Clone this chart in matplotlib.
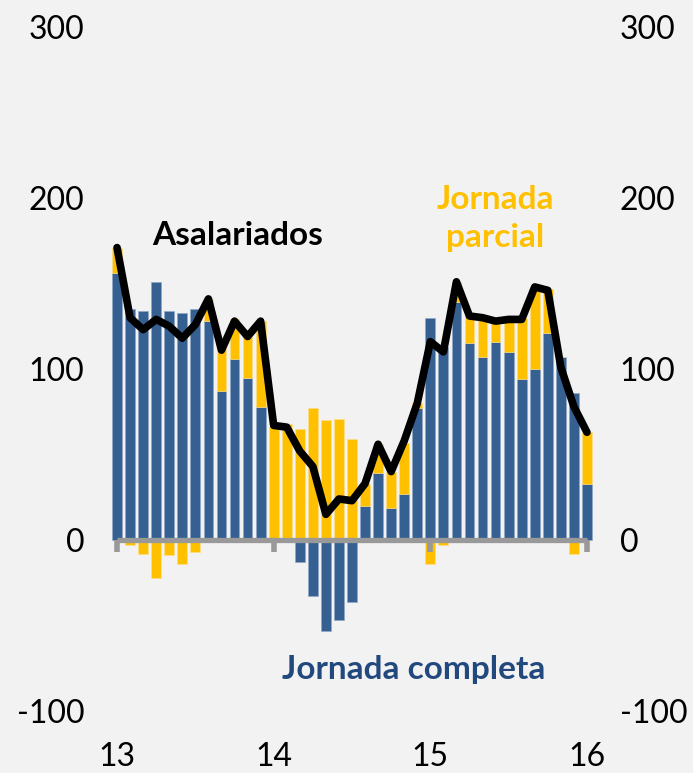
import numpy as np
import matplotlib.pyplot as plt

plt.rcParams['font.family'] = ['Lato', 'DejaVu Sans']
plt.rcParams['axes.unicode_minus'] = False

# monthly, Jan 2013 .. Jan 2016
months = np.arange(37)
completa = [156, 135, 134, 151, 134, 133, 135, 128, 87, 106, 95, 78,
            0, -1, -13, -33, -53, -47, -36, 20, 39, 19, 27, 77,
            130, 113, 139, 115, 107, 116, 110, 94, 100, 121, 107, 86,
            33]
parcial = [15, -3, -8, -22, -9, -14, -7, 13, 25, 23, 24, 50,
           66, 68, 65, 77, 70, 71, 59, 13, 17, 21, 30, 3,
           -14, -3, 12, 16, 23, 12, 20, 36, 48, 26, 0, -8,
           30]
asalariados = [171, 130, 123, 129, 125, 118, 126, 141, 111, 128, 119, 128,
               67, 66, 52, 43, 15, 24, 23, 33, 56, 40, 58, 80,
               116, 110, 151, 131, 130, 128, 129, 129, 148, 146, 101, 78,
               63]
year_ticks = [0, 12, 24, 36]
year_labels = ['13', '14', '15', '16']

blue = '#366092'
yellow = '#FFC000'
bg = '#F2F2F2'

completa = np.array(completa)
parcial = np.array(parcial)
bottom_p = np.where(parcial >= 0, np.maximum(completa, 0), np.minimum(completa, 0))

fig = plt.figure(figsize=(6.93, 7.73), dpi=100, facecolor=bg)
ax = fig.add_axes([109.2 / 693, 62 / 773, 485.6 / 693, 684 / 773])
ax.set_facecolor(bg)

ax.bar(months, completa, width=0.75, color=blue, edgecolor='#8fa8c8', linewidth=0.4, zorder=2)
ax.bar(months, parcial, bottom=bottom_p, width=0.75, color=yellow,
       edgecolor='#ffe08a', linewidth=0.4, zorder=2)

# zero axis with year ticks
ax.plot([0, 36], [0, 0], color='#999999', lw=3.8, solid_capstyle='butt', zorder=3)
ax.vlines(year_ticks, -7, 0, color='#999999', lw=4, zorder=3)

ax.plot(months, asalariados, color='black', lw=5.5, solid_joinstyle='round',
        solid_capstyle='round', zorder=4)

ax.set_xlim(-0.6, 36.6)
ax.set_ylim(-100, 300)
ax.set_yticks([-100, 0, 100, 200, 300])
ax.set_xticks(year_ticks)
ax.set_xticklabels(year_labels)
ax.tick_params(axis='both', length=0, labelsize=23, labelcolor='black')
ax.tick_params(axis='y', pad=18, labelright=True, right=False)
ax.tick_params(axis='x', pad=22)
for s in ax.spines.values():
    s.set_visible(False)

ax.text(9.2, 178, 'Asalariados', fontsize=24, fontweight='bold', color='black',
        ha='center', va='center')
ax.text(29.0, 188, 'Jornada\nparcial', fontsize=24, fontweight='bold', color=yellow,
        ha='center', va='center', linespacing=1.4)
ax.text(22.7, -76, 'Jornada completa', fontsize=24, fontweight='bold', color='#22497E',
        ha='center', va='center')

fig.savefig('out.png', dpi=100, facecolor=bg)
